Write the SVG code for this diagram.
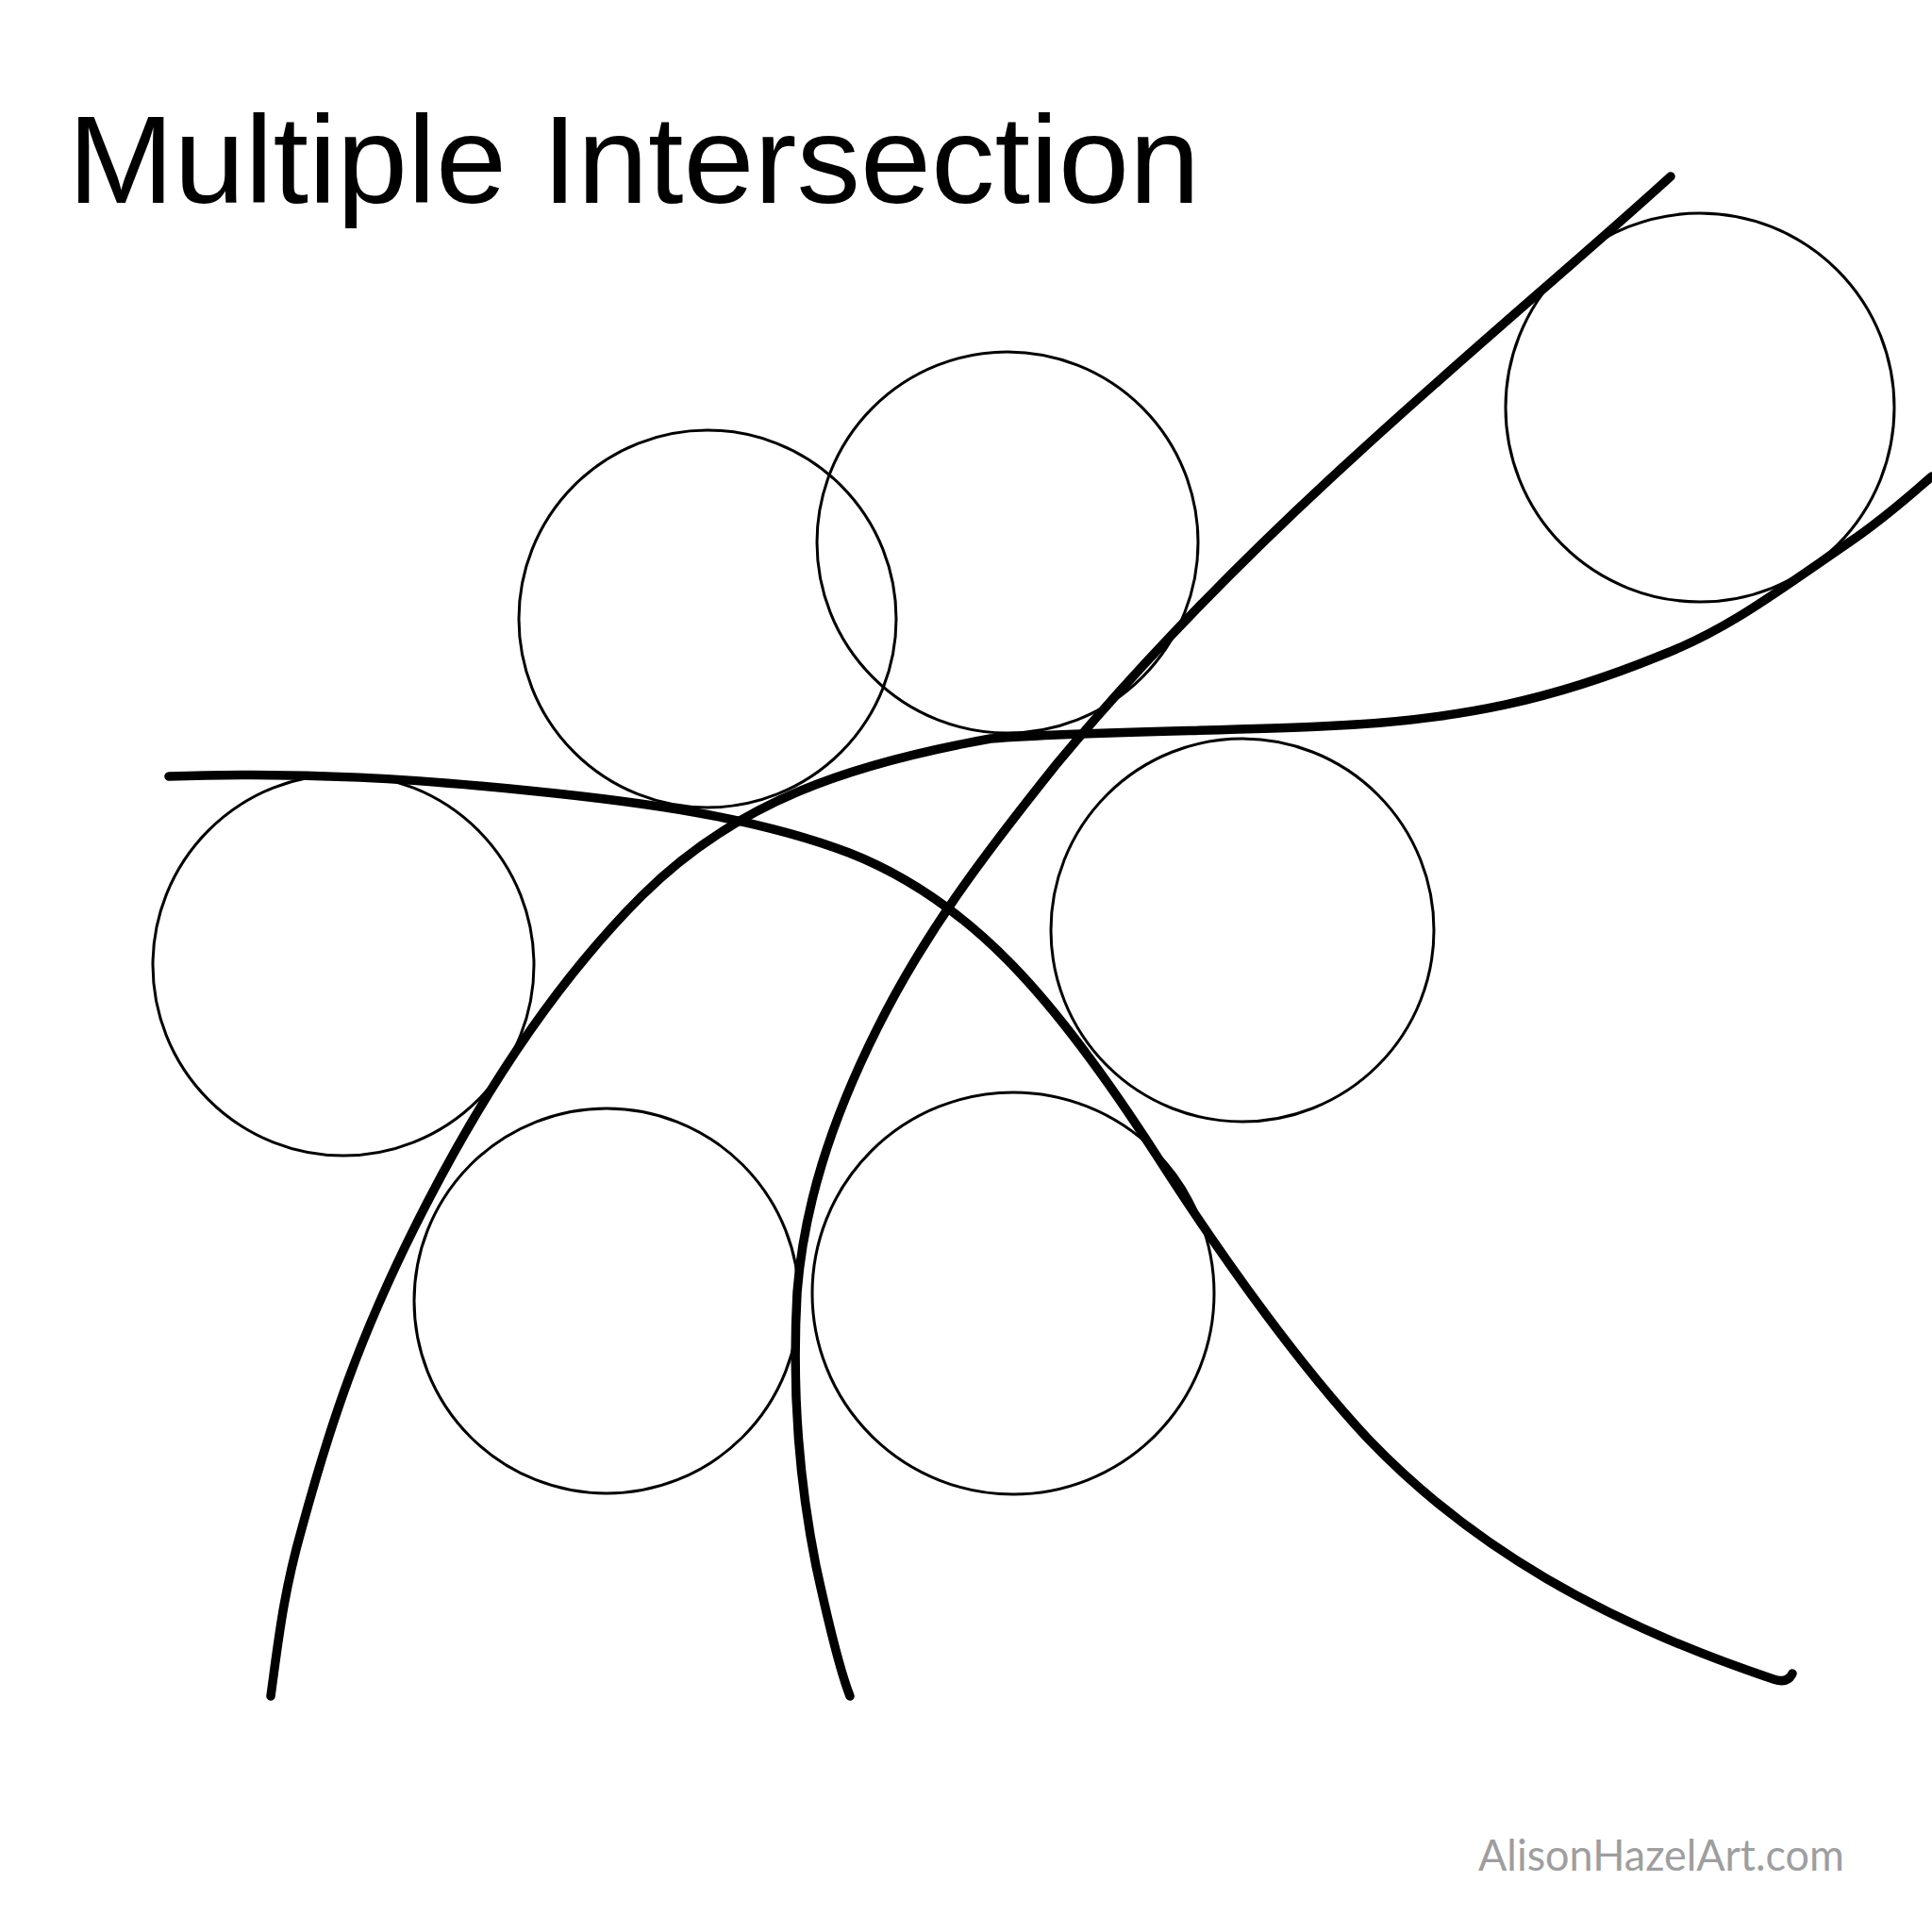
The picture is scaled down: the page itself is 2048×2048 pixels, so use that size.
<svg xmlns="http://www.w3.org/2000/svg" width="2048" height="2048" viewBox="0 0 2048 2048">
<style>
.c{fill:none;stroke:#000;stroke-width:3}
.l{fill:none;stroke:#000;stroke-width:9.5;stroke-linecap:round;stroke-linejoin:round}
.t{font-family:"Liberation Sans","DejaVu Sans",sans-serif;fill:#000}
.w{font-family:"Lato","Liberation Sans",sans-serif;fill:#9e9e9e}
</style>
<rect width="2048" height="2048" fill="#fff"/>
<text class="t" x="72" y="215" font-size="132" textLength="1200" lengthAdjust="spacingAndGlyphs">Multiple Intersection</text>
<g id="circle1"><circle class="c" cx="750" cy="656" r="200"/></g>
<g id="circle2"><circle class="c" cx="1068" cy="575" r="202"/></g>
<g id="circle3"><circle class="c" cx="1802" cy="432" r="206"/></g>
<g id="circle4"><circle class="c" cx="364" cy="1023" r="202"/></g>
<g id="circle5"><circle class="c" cx="1317" cy="986" r="203"/></g>
<g id="circle6"><circle class="c" cx="643" cy="1379" r="204"/></g>
<g id="circle7"><circle class="c" cx="1074" cy="1371" r="213"/></g>
<g id="curves">
<path class="l" d="M179 823 C330 818 440 826 560 838 C680 850 800 866 900 904 C1030 955 1120 1060 1228 1228 C1300 1340 1380 1450 1450 1525 C1560 1640 1700 1720 1880 1780 Q1895 1785 1900 1774"/>
<path class="l" d="M287 1798 C295 1740 300 1690 320 1620 C350 1510 380 1420 440 1300 C520 1140 600 1030 680 950 C780 850 900 810 1050 783 C1150 775 1300 775 1400 770 C1550 764 1650 740 1760 695 C1830 668 1880 630 1960 575 C2000 548 2030 520 2048 505"/>
<path class="l" d="M901 1798 C890 1770 878 1720 865 1660 C845 1560 840 1460 845 1370 C852 1280 880 1190 930 1090 C980 990 1040 910 1120 810 C1220 690 1330 580 1440 480 C1560 370 1680 270 1771 187"/>
</g>
<text class="w" x="1567" y="1983" font-size="46" textLength="388" lengthAdjust="spacingAndGlyphs">AlisonHazelArt.com</text>
</svg>
